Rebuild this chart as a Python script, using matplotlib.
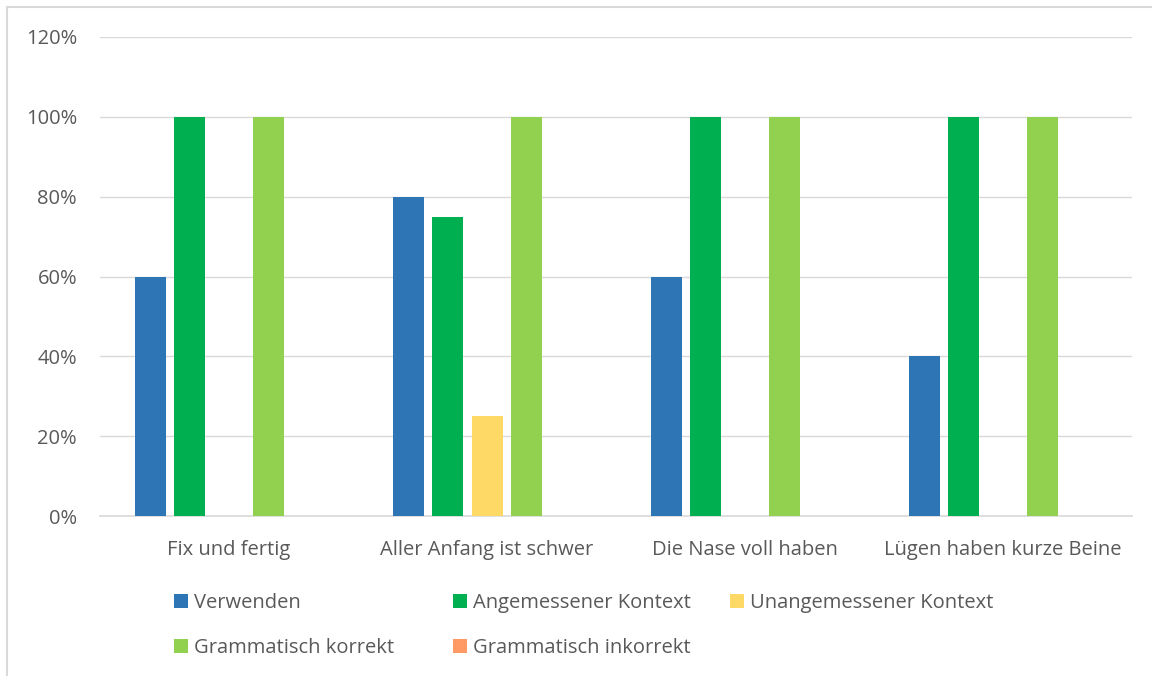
import matplotlib
matplotlib.use("Agg")
import matplotlib.pyplot as plt
from matplotlib.patches import Rectangle
from matplotlib.ticker import FuncFormatter
import numpy as np

categories = ["Fix und fertig", "Aller Anfang ist schwer", "Die Nase voll haben", "Lügen haben kurze Beine"]
series_names = ["Verwenden", "Angemessener Kontext", "Unangemessener Kontext",
                "Grammatisch korrekt", "Grammatisch inkorrekt"]
verwenden = [60, 80, 60, 40]
angemessen = [100, 75, 100, 100]
unangemessen = [0, 25, 0, 0]
gram_korrekt = [100, 100, 100, 100]
gram_inkorrekt = [0, 0, 0, 0]
yticks = [0, 20, 40, 60, 80, 100, 120]

series = [verwenden, angemessen, unangemessen, gram_korrekt, gram_inkorrekt]
colors = ["#2E75B6", "#00B050", "#FFD966", "#92D050", "#FF9966"]

plt.rcParams['font.family'] = ['Open Sans', 'DejaVu Sans']
text_color = "#595959"
fs = 14.5

W, H = 1152, 676
fig = plt.figure(figsize=(W/100, H/100), dpi=100)
ax = fig.add_axes([100/W, 1-516/H, (1132-100)/W, (516-37)/H])

x = np.arange(len(categories))
step = 39.5/258
width = 31/258
handles = []
for i, (vals, c, name) in enumerate(zip(series, colors, series_names)):
    b = ax.bar(x + (i-2)*step, vals, width=width, color=c, label=name, zorder=3)
    handles.append(b)

ax.set_xlim(-0.5, len(categories)-0.5)
ax.set_ylim(0, 120)
ax.set_yticks(yticks)
ax.yaxis.set_major_formatter(FuncFormatter(lambda v, p: f"{v:.0f}%"))
ax.set_xticks(x)
ax.set_xticklabels(categories)
ax.tick_params(axis='both', length=0, colors=text_color, labelsize=fs)
ax.tick_params(axis='y', pad=16.5)
ax.tick_params(axis='x', pad=17)
ax.grid(axis='y', color="#D9D9D9", linewidth=1, zorder=0)
for s in ["top", "right", "left"]:
    ax.spines[s].set_visible(False)
ax.spines["bottom"].set_color("#D9D9D9")
ax.spines["bottom"].set_linewidth(1.2)

# Legend: three columns placed explicitly
col_x = [174/W, 453/W, 730/W]
cols = [[0, 3], [1, 4], [2]]
for cx, idxs in zip(col_x, cols):
    fig.legend([handles[k] for k in idxs], [series_names[k] for k in idxs],
               loc="upper left", bbox_to_anchor=(cx, 1-593/H), frameon=False,
               fontsize=fs, handlelength=0.7, handleheight=0.7, handletextpad=0.3,
               labelspacing=1.25, borderpad=0, borderaxespad=0, labelcolor=text_color)

# outer border
fig.patches.append(Rectangle((6.5/W, -0.05), 1.2, 1-7/H+0.05, transform=fig.transFigure,
                             fill=False, edgecolor="#D9D9D9", linewidth=1.5))

fig.savefig("out.png", dpi=100, facecolor="white")
